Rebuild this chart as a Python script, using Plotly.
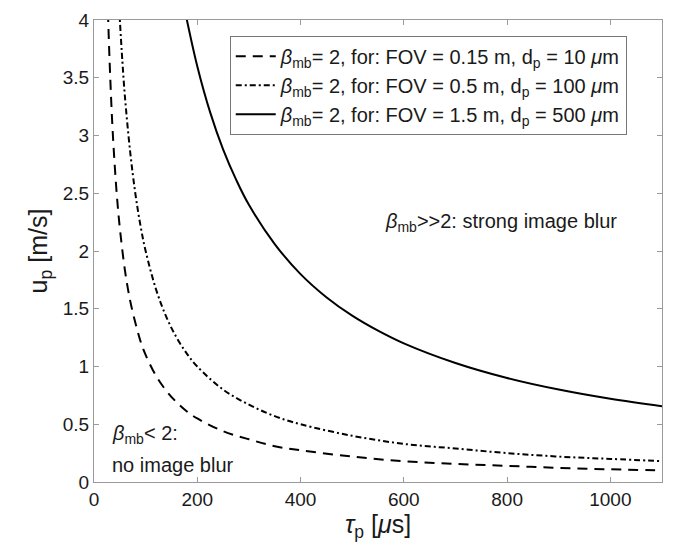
import plotly.graph_objects as go

# ---- data (tau_p in microseconds, u_p in m/s) ----
tau_a = [27, 30, 35, 40, 45, 50, 60, 70, 80, 90, 100, 120, 140, 160, 180, 200,
         250, 300, 350, 400, 500, 600, 700, 800, 900, 1000, 1100]
u_a = [4.07, 3.67, 3.14, 2.75, 2.44, 2.2, 1.83, 1.57, 1.38, 1.22, 1.1, 0.92, 0.79,
       0.69, 0.61, 0.55, 0.44, 0.37, 0.31, 0.275, 0.22, 0.18, 0.157, 0.14, 0.122,
       0.11, 0.10]

tau_b = [49, 55, 60, 70, 80, 90, 100, 120, 140, 160, 180, 200, 250, 300, 350,
         400, 500, 600, 700, 800, 900, 1000, 1100]
u_b = [4.08, 3.64, 3.33, 2.86, 2.5, 2.22, 2.0, 1.67, 1.43, 1.25, 1.11, 1.0, 0.8,
       0.67, 0.57, 0.5, 0.4, 0.33, 0.29, 0.25, 0.22, 0.2, 0.18]

tau_c = [178, 200, 225, 250, 275, 300, 350, 400, 450, 500, 550, 600, 700, 800,
         900, 1000, 1100]
u_c = [4.04, 3.6, 3.2, 2.88, 2.62, 2.4, 2.06, 1.8, 1.6, 1.44, 1.31, 1.2, 1.03,
       0.9, 0.8, 0.72, 0.655]

names = [
    "<i>β</i><sub>mb</sub>= 2, for: FOV = 0.15 m, d<sub>p</sub> = 10 <i>μ</i>m",
    "<i>β</i><sub>mb</sub>= 2, for: FOV = 0.5 m, d<sub>p</sub> = 100 <i>μ</i>m",
    "<i>β</i><sub>mb</sub>= 2, for: FOV = 1.5 m, d<sub>p</sub> = 500 <i>μ</i>m",
]

x_ticks = [0, 200, 400, 600, 800, 1000]
y_ticks = [0, 0.5, 1, 1.5, 2, 2.5, 3, 3.5, 4]
y_ticklabels = ["0", "0.5", "1", "1.5", "2", "2.5", "3", "3.5", "4"]

FONT = "Liberation Sans"
INK = "#1a1a1a"
FRAME = "#9a9a9a"

fig = go.Figure()
fig.add_trace(go.Scatter(x=tau_a, y=u_a, mode="lines", name=names[0],
                         line=dict(color="black", width=2, dash="10px,7px", shape="spline")))
fig.add_trace(go.Scatter(x=tau_b, y=u_b, mode="lines", name=names[1],
                         line=dict(color="black", width=2, dash="6px,3px,2px,3px", shape="spline")))
fig.add_trace(go.Scatter(x=tau_c, y=u_c, mode="lines", name=names[2],
                         line=dict(color="black", width=2, shape="spline")))

fig.add_annotation(x=560, y=2.25, xref="x", yref="y", xanchor="left", yanchor="middle",
                   text="<i>β</i><sub>mb</sub>>>2: strong image blur", showarrow=False,
                   font=dict(family=FONT, size=20, color=INK))
fig.add_annotation(x=31, y=0.41, xref="x", yref="y", xanchor="left", yanchor="middle",
                   text="<i>β</i><sub>mb</sub>< 2:", showarrow=False,
                   font=dict(family=FONT, size=20, color=INK))
fig.add_annotation(x=31, y=0.15, xref="x", yref="y", xanchor="left", yanchor="middle",
                   text="no image blur", showarrow=False,
                   font=dict(family=FONT, size=20, color=INK))

axis_common = dict(showgrid=False, zeroline=False, showline=True, linecolor=FRAME,
                   linewidth=1, mirror="ticks", ticks="inside", ticklen=5,
                   tickcolor=FRAME, tickfont=dict(family=FONT, size=19, color=INK))

fig.update_layout(
    width=673, height=560,
    margin=dict(l=94, r=10, t=16, b=78),
    paper_bgcolor="white", plot_bgcolor="white",
    font=dict(family=FONT, color=INK),
    xaxis=dict(range=[0, 1100], tickvals=x_ticks, ticktext=[str(v) for v in x_ticks],
               title=dict(text="<i>τ</i><sub>p</sub> [<i>μ</i>s]", standoff=6,
                          font=dict(family=FONT, size=25, color=INK)),
               **axis_common),
    yaxis=dict(range=[0, 4], tickvals=y_ticks, ticktext=y_ticklabels,
               title=dict(text="u<sub>p</sub> [m/s]", standoff=8,
                          font=dict(family=FONT, size=25, color=INK)),
               **axis_common),
    legend=dict(x=0.239, y=0.966, xanchor="left", yanchor="top",
                bgcolor="white", bordercolor="#777", borderwidth=1,
                font=dict(family=FONT, size=20, color=INK),
                tracegroupgap=0, itemwidth=40),
    showlegend=True,
)

fig.write_html("out.html")
